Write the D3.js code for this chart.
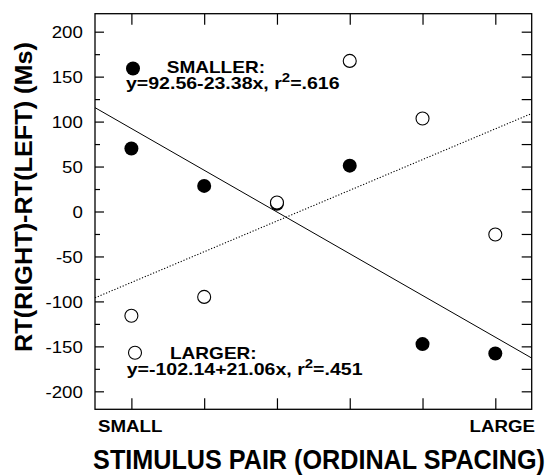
<!DOCTYPE html>
<html><head><meta charset="utf-8">
<script src="https://cdn.jsdelivr.net/npm/d3@7"></script>
<style>body{margin:0;background:#fff}svg{display:block}text{font-family:"Liberation Sans",Arial,sans-serif;fill:#000}</style>
</head><body><svg id="c" width="554" height="476"></svg>
<script>
const positions = [1, 2, 3, 4, 5, 6];
const smallerRT = [70, 28.5, 8.5, 51, -147.5, -158];
const largerRT = [-116, -95, 10, 167.5, 103.5, -25.5];
const fitX = [0.5, 6.5];
const smallerFitY = [115.5, -163];
const largerFitY = [-96, 109];
const majorTicks = [-200, -150, -100, -50, 0, 50, 100, 150, 200];
const minorTicks = [-175, -125, -75, -25, 25, 75, 125, 175];
const allTicks = [-200,-175,-150,-125,-100,-75,-50,-25,0,25,50,75,100,125,150,175,200];
const endLabels = ["SMALL", "LARGE"];
const legendSmaller = {title: "SMALLER:", eq: "y=92.56-23.38x, r", r2: "=.616"};
const legendLarger = {title: "LARGER:", eq: "y=-102.14+21.06x, r", r2: "=.451"};

const svg = d3.select("#c");
const L = 95, R = 531.7, T = 13.7, B = 409.3;
const x = d3.scaleLinear().domain([0.5, 6.5]).range([L, R]);
const y = d3.scaleLinear().domain([-220, 220]).range([B, T]);

// axes
const gl = svg.append("g").attr("transform", `translate(${L},0)`)
  .call(d3.axisLeft(y).tickValues(majorTicks).tickSize(-9).tickSizeOuter(0).tickPadding(11).tickFormat(d => String(d)));
gl.attr("font-size", 17);
gl.select(".domain").remove();
gl.selectAll("text").attr("font-size", 17)
  .attr("transform", "scale(1.1,1)").attr("dy", "0.36em");
const gm = svg.append("g").attr("transform", `translate(${L},0)`)
  .call(d3.axisLeft(y).tickValues(minorTicks).tickSize(-5).tickFormat(""));
gm.select(".domain").remove();
const gr = svg.append("g").attr("transform", `translate(${R},0)`)
  .call(d3.axisRight(y).tickValues(allTicks).tickSize(-10).tickFormat(""));
gr.select(".domain").remove();
const gt = svg.append("g").attr("transform", `translate(0,${T})`)
  .call(d3.axisTop(x).tickValues(positions).tickSize(-11).tickFormat(""));
gt.select(".domain").remove();
const gb = svg.append("g").attr("transform", `translate(0,${B})`)
  .call(d3.axisBottom(x).tickValues(positions).tickSize(-11).tickFormat(""));
gb.select(".domain").remove();
svg.selectAll(".tick line").attr("stroke", "#000").attr("stroke-width", 1.2);

svg.append("rect").attr("x", L).attr("y", T).attr("width", R - L).attr("height", B - T)
  .attr("fill", "none").attr("stroke", "#000").attr("stroke-width", 1.3);

// fit lines
const line = d3.line().x(d => x(d[0])).y(d => y(d[1]));
svg.append("path").datum(fitX.map((v, i) => [v, smallerFitY[i]])).attr("d", line)
  .attr("stroke", "#000").attr("stroke-width", 1).attr("fill", "none");
svg.append("path").datum(fitX.map((v, i) => [v, largerFitY[i]])).attr("d", line)
  .attr("stroke", "#000").attr("stroke-width", 1.1).attr("stroke-dasharray", "1.2,1.8").attr("fill", "none");

// points
svg.append("g").selectAll("circle").data(positions.map((p, i) => [p, smallerRT[i]])).join("circle")
  .attr("cx", d => x(d[0])).attr("cy", d => y(d[1])).attr("r", 7).attr("fill", "#000");
svg.append("g").selectAll("circle").data(positions.map((p, i) => [p, largerRT[i]])).join("circle")
  .attr("cx", d => x(d[0])).attr("cy", d => y(d[1])).attr("r", 6.5).attr("fill", "#fff")
  .attr("stroke", "#000").attr("stroke-width", 1.1);

// legends
function legend(lg, mx, my, filled, tx, ty, ex, ey) {
  svg.append("circle").attr("cx", mx).attr("cy", my).attr("r", filled ? 7 : 6.5)
    .attr("fill", filled ? "#000" : "#fff").attr("stroke", "#000").attr("stroke-width", filled ? 0 : 1.1);
  svg.append("text").attr("transform", `translate(${tx},${ty}) scale(1.12,1)`)
    .attr("font-size", 17).attr("font-weight", "bold").text(lg.title);
  const t = svg.append("text").attr("transform", `translate(${ex},${ey}) scale(1.15,1)`)
    .attr("font-size", 17).attr("font-weight", "bold");
  t.append("tspan").text(lg.eq);
  t.append("tspan").attr("font-size", 13).attr("dy", -7).text("2");
  t.append("tspan").attr("dy", 7).text(lg.r2);
}
legend(legendSmaller, 133, 68.5, true, 166.7, 73, 126, 88.5);
legend(legendLarger, 135, 352.7, false, 170, 358.7, 126.7, 374.5);

// end labels
svg.append("text").attr("transform", "translate(98,431.7) scale(1.1,1)")
  .attr("font-size", 17).attr("font-weight", "bold").text(endLabels[0]);
svg.append("text").attr("transform", "translate(535,431.7) scale(1.1,1)")
  .attr("font-size", 17).attr("font-weight", "bold").attr("text-anchor", "end").text(endLabels[1]);

// axis titles
svg.append("text").attr("transform", "translate(319,469.3) scale(1,1.1)").attr("text-anchor", "middle")
  .attr("font-size", 25.2).attr("font-weight", "bold")
  .text("STIMULUS PAIR (ORDINAL SPACING)");
svg.append("text").attr("transform", "translate(31.7,197) rotate(-90)").attr("text-anchor", "middle")
  .attr("font-size", 23).attr("font-weight", "bold")
  .attr("textLength", 310).attr("lengthAdjust", "spacingAndGlyphs")
  .text("RT(RIGHT)-RT(LEFT) (Ms)");
</script></body></html>
